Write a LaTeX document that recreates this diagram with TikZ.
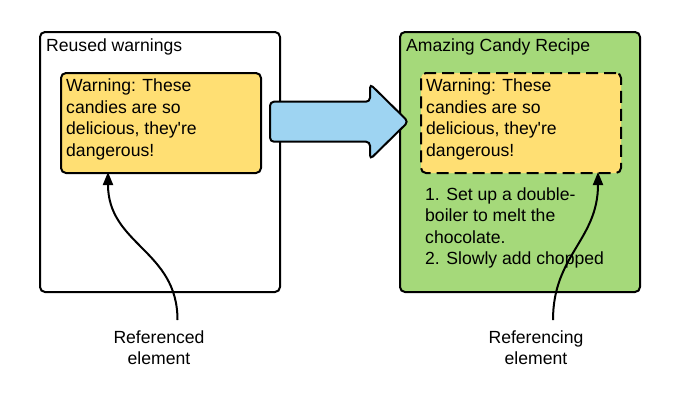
\documentclass[tikz,border=0pt]{standalone}
\usepackage{fontspec}
\setmainfont{Liberation Sans}[Ligatures=TeXOff]
\usetikzlibrary{arrows.meta}
\definecolor{noteyellow}{RGB}{255,223,115}
\definecolor{recipegreen}{RGB}{165,217,122}
\definecolor{arrowblue}{RGB}{158,212,242}
\begin{document}
\begin{tikzpicture}[x=1pt,y=-1pt,
  every node/.style={font=\fontsize{17.6}{21.5}\selectfont, inner sep=0pt},
  panel/.style={draw=black, line width=2pt, rounded corners=5pt},
  notebox/.style={draw=black, line width=2pt, rounded corners=5pt, fill=noteyellow},
  bodytext/.style={anchor=base west, align=left},
  caption/.style={anchor=base, align=center},
  pointer/.style={line width=2pt, -{Triangle[length=13pt,width=10pt]}}]
\useasboundingbox (0,0) rectangle (687,400);

% outer panels
\draw[panel, fill=white] (40,32) rectangle (280,292);
\draw[panel, fill=recipegreen] (400,32) rectangle (640,292);

% warning boxes
\node[notebox, minimum width=200pt, minimum height=100pt, anchor=north west] (src) at (60,72) {};
\node[notebox, dash pattern=on 12pt off 6pt, minimum width=200pt, minimum height=100pt, anchor=north west] (ref) at (420,72) {};

% titles
\node[anchor=base west] (t1) at (46,51.7) {Reused warnings};
\node[anchor=base west] (t2) at (406,51.7) {Amazing Candy Recipe};

% warning texts (base anchor sits on the last line)
\node[bodytext] (w1) at (66,156.2) {Warning: These\\candies are so\\delicious, they're\\dangerous!};
\node[bodytext] (w2) at (426,156.2) {Warning: These\\candies are so\\delicious, they're\\dangerous!};

% recipe steps
\node[bodytext] (steps) at (425,264.5) {1. Set up a double-\\boiler to melt the\\chocolate.\\2. Slowly add chopped};

% block arrow between panels
\draw[line width=2pt, fill=arrowblue, rounded corners=4pt]
  (270,101.7) -- (370,101.7) -- (370,84) -- (408.3,121.7) -- (370,159.3)
  -- (370,141.7) -- (270,141.7) -- cycle;

% captions
\node[caption] (c1) at (159,364.5) {Referenced\\element};
\node[caption] (c2) at (536,364.5) {Referencing\\element};

% curved pointers
\coordinate (p1) at (177.5,320);
\coordinate (p2) at (553,320);
\draw[pointer] (p1) .. controls (177.5,250) and (108,245) .. (108,172);
\draw[pointer] (p2) .. controls (553,255) and (598,240) .. (598,172);
\end{tikzpicture}
\end{document}
